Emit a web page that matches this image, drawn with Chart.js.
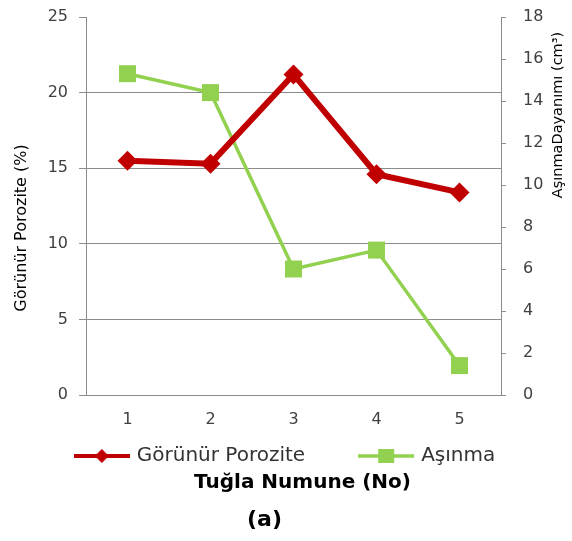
<!DOCTYPE html>
<html>
<head>
<meta charset="utf-8">
<script src="https://cdn.jsdelivr.net/npm/chart.js@4.4.1/dist/chart.umd.min.js"></script>
<style>
  html, body { margin: 0; padding: 0; background: #ffffff; }
  #wrap { width: 572px; height: 541px; position: relative; }
</style>
</head>
<body>
<div id="wrap"><canvas id="c" width="572" height="541"></canvas></div>
<script>
// ---- data ----
const categories = ['1', '2', '3', '4', '5'];
const porozite = [15.5, 15.3, 21.2, 14.6, 13.4];   // Görünür Porozite (%) - left axis
const asinma = [15.3, 14.4, 6.0, 6.9, 1.4];       // Aşınma Dayanımı (cm³) - right axis
const seriesNames = ['Görünür Porozite', 'Aşınma'];
const leftTicks = [0, 5, 10, 15, 20, 25];
const rightTicks = [0, 2, 4, 6, 8, 10, 12, 14, 16, 18];
const xTitle = 'Tuğla Numune (No)';
const leftTitle = 'Görünür Porozite (%)';
const rightTitle = 'AşınmaDayanımı (cm³)';
const caption = '(a)';

const RED = '#C00000';
const GREEN = '#92D050';
const GRID = '#8C8C8C';
const TICKTXT = '#404040';
const FONT = "'DejaVu Sans', sans-serif";

function legendImage(color, lineW, shape) {
  const cv = document.createElement('canvas');
  cv.width = 56; cv.height = 20;
  const g = cv.getContext('2d');
  g.strokeStyle = color; g.lineWidth = lineW;
  g.beginPath(); g.moveTo(0, 10); g.lineTo(56, 10); g.stroke();
  g.fillStyle = color;
  g.beginPath();
  if (shape === 'diamond') {
    g.moveTo(28 - 7, 10); g.lineTo(28, 3); g.lineTo(28 + 7, 10); g.lineTo(28, 17); g.closePath();
  } else {
    g.rect(28 - 8, 10 - 7, 16, 14);
  }
  g.fill();
  return cv;
}
const legendImgs = [legendImage(RED, 4, 'diamond'), legendImage(GREEN, 3.5, 'square')];

// move the legend row up so it sits right under the category labels
const legendShift = {
  id: 'legendShift',
  afterLayout(chart) {
    if (chart.legend) { chart.legend.top -= 46; chart.legend.bottom -= 46; }
  }
};

const titlesPlugin = {
  id: 'titlesPlugin',
  afterDraw(chart) {
    const ctx = chart.ctx;
    const a = chart.chartArea;
    ctx.save();
    ctx.fillStyle = '#000000';
    ctx.textAlign = 'center';
    ctx.textBaseline = 'middle';
    // left axis title
    ctx.save();
    ctx.font = "16px " + FONT;
    ctx.translate(a.left - 64, a.top + 211);
    ctx.rotate(-Math.PI / 2);
    ctx.fillText(leftTitle, 0, 0);
    ctx.restore();
    // right axis title (reads bottom to top)
    ctx.save();
    ctx.font = "14.5px " + FONT;
    ctx.translate(a.right + 57.5, a.top + 98);
    ctx.rotate(-Math.PI / 2);
    ctx.fillText(rightTitle, 0, 0);
    ctx.restore();
    // x title
    ctx.font = "bold 20px " + FONT;
    ctx.fillText(xTitle, (a.left + a.right) / 2 + 9, a.bottom + 88);
    // caption
    ctx.font = "bold 22px " + FONT;
    ctx.fillText(caption, (a.left + a.right) / 2 - 29, a.bottom + 125);
    ctx.restore();
  }
};

function noPad(s) { s.paddingTop = 0; s.paddingBottom = 0; }

new Chart(document.getElementById('c'), {
  type: 'line',
  data: {
    labels: categories,
    datasets: [
      {
        label: seriesNames[0],
        data: porozite,
        yAxisID: 'y',
        borderColor: RED,
        backgroundColor: RED,
        borderWidth: 6,
        pointStyle: 'rectRot',
        pointRadius: 10,
        pointHoverRadius: 10,
        pointBorderWidth: 0,
        tension: 0
      },
      {
        label: seriesNames[1],
        data: asinma,
        yAxisID: 'y1',
        borderColor: GREEN,
        backgroundColor: GREEN,
        borderWidth: 3.5,
        pointStyle: 'rect',
        pointRadius: 12,
        pointHoverRadius: 12,
        pointBorderWidth: 0,
        tension: 0
      }
    ]
  },
  options: {
    responsive: false,
    animation: false,
    events: [],
    layout: { padding: { top: 17, left: 0, right: 0, bottom: 19 } },
    scales: {
      x: {
        offset: true,
        grid: { display: false, drawTicks: false },
        border: { display: true, color: GRID, width: 1 },
        ticks: { color: TICKTXT, font: { family: FONT, size: 16 }, padding: 15 },
        afterFit(s) { s.height = 41; }
      },
      y: {
        position: 'left',
        min: 0, max: 25,
        afterBuildTicks(s) { s.ticks = leftTicks.map(v => ({ value: v })); },
        grid: {
          color: (c) => (c.tick && c.tick.value === 25) ? 'rgba(0,0,0,0)' : GRID,
          tickColor: GRID,
          tickLength: 7,
          lineWidth: 1
        },
        border: { display: true, color: GRID, width: 1 },
        ticks: { color: TICKTXT, font: { family: FONT, size: 16 }, padding: 11 },
        afterFit(s) { s.width = 86; noPad(s); }
      },
      y1: {
        position: 'right',
        min: 0, max: 18,
        afterBuildTicks(s) { s.ticks = rightTicks.map(v => ({ value: v })); },
        grid: { drawOnChartArea: false, color: GRID, tickColor: GRID, tickLength: 5 },
        border: { display: true, color: GRID, width: 1 },
        ticks: { color: TICKTXT, font: { family: FONT, size: 16 }, padding: 17 },
        afterFit(s) { s.width = 71; noPad(s); }
      }
    },
    plugins: {
      tooltip: { enabled: false },
      legend: {
        position: 'bottom',
        labels: {
          usePointStyle: true,
          pointStyleWidth: 50,
          padding: 56,
          color: '#333333',
          font: { family: FONT, size: 20 },
          generateLabels(chart) {
            const items = Chart.defaults.plugins.legend.labels.generateLabels(chart);
            return items.map((it, i) => Object.assign(it, { pointStyle: legendImgs[i], lineWidth: 0 }));
          }
        }
      }
    }
  },
  plugins: [legendShift, titlesPlugin]
});
</script>
</body>
</html>
